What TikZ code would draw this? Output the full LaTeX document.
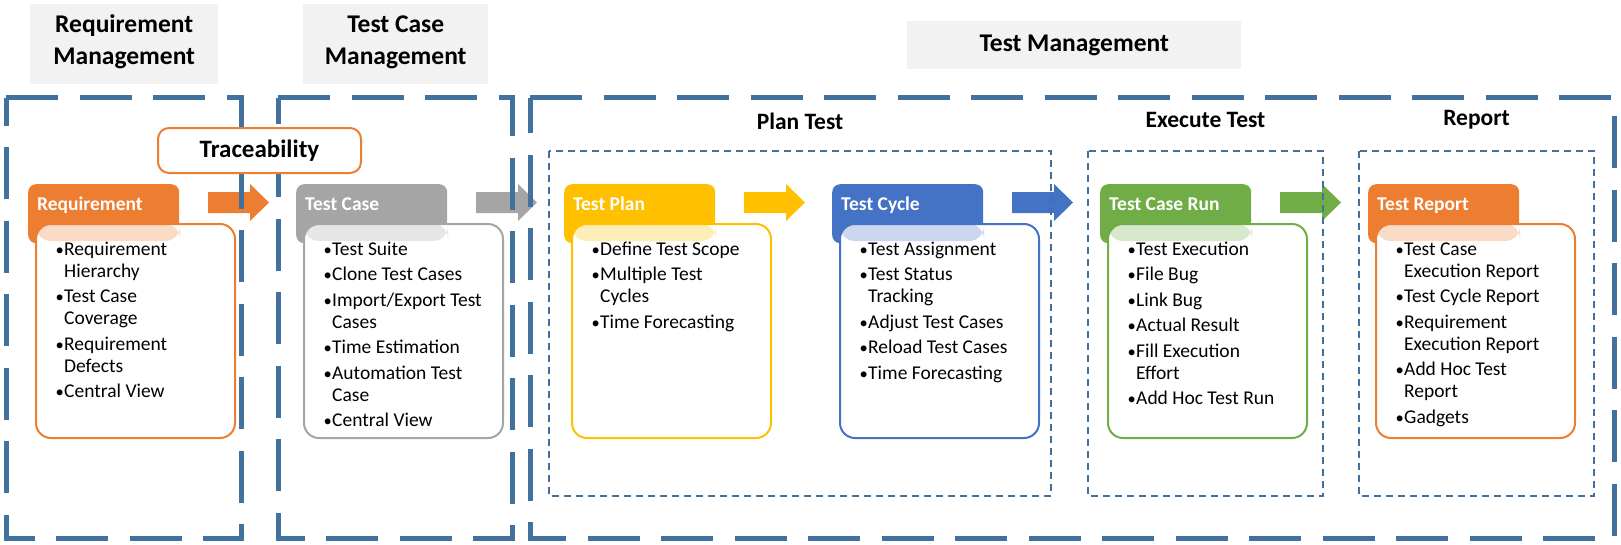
\documentclass[tikz,border=0pt]{standalone}
\usepackage{fontspec}
\usepackage{graphicx}
\setmainfont{Carlito}
\usetikzlibrary{calc}
\definecolor{corange}{HTML}{ED7D31}
\definecolor{cgray}{HTML}{A5A5A5}
\definecolor{cyellow}{HTML}{FFC000}
\definecolor{cblue}{HTML}{4472C4}
\definecolor{cgreen}{HTML}{70AD47}
\definecolor{dashblue}{HTML}{41719C}
\definecolor{titlegray}{HTML}{F2F2F2}
\newcommand{\bul}{\makebox[8.5pt][l]{\scalebox{0.85}{•}}}
\newcommand{\ind}{\hspace*{8.5pt}}
\newcommand{\itemsbox}[1]{\begin{minipage}[t]{190pt}\fontsize{19.5}{22}\selectfont #1\end{minipage}}
\newcommand{\drawcard}[5]{%
  \node[fill=#2, rounded corners=8pt, minimum width=151pt, minimum height=59pt, anchor=north west, inner sep=0] (#3tab) at (#1,184) {};
  \node[cardbody, draw=#2, minimum width=199pt, minimum height=214pt, anchor=north west,
        path picture={\fill[#2!28] (path picture bounding box.north west) rectangle ++(144,17);}] (#3body) at (#1+7,223) {};
  \node[tabtext, anchor=base west] (#3title) at (#1+9,210) {#4};
  \node[anchor=base west, inner sep=0] (#3list) at (#1+27.5,255) {\itemsbox{#5}};
}
\newcommand{\drawarrow}[2]{%
  \fill[#2] (#1+180,192) -- (#1+222,192) -- (#1+222,184) -- (#1+241,202.5) -- (#1+222,221) -- (#1+222,213) -- (#1+180,213) -- cycle;
}
\begin{document}
\begin{tikzpicture}[x=1pt,y=-1pt,
  titlebox/.style={fill=titlegray, draw=none, inner sep=0, anchor=north west},
  titletext/.style={font=\fontsize{25.5}{32}\selectfont\bfseries, align=center, inner sep=0},
  sectext/.style={font=\fontsize{23.5}{28}\selectfont\bfseries, inner sep=0},
  tabtext/.style={font=\fontsize{19.5}{22}\selectfont\bfseries, text=white, inner sep=0},
  cardbody/.style={fill=white, line width=2pt, rounded corners=15pt, inner sep=0},
  bigdash/.style={draw=dashblue, line width=5pt, dash pattern=on 52pt off 21.5pt},
  smalldash/.style={draw=dashblue, line width=1.8pt, dash pattern=on 7pt off 5pt}]
\useasboundingbox (0,0) rectangle (1621,544);
% title boxes
\node[titlebox, minimum width=188pt, minimum height=80pt] (reqmgmt) at (30,4) {};
\node[titletext] at ([yshift=2pt]reqmgmt.center) {Requirement\\Management};
\node[titlebox, minimum width=185pt, minimum height=80pt] (tcmgmt) at (303,4) {};
\node[titletext] at ([yshift=2pt]tcmgmt.center) {Test Case\\Management};
\node[titlebox, minimum width=334pt, minimum height=48pt] (tmgmt) at (907,21) {};
\node[titletext] at (tmgmt.center) {Test Management};
% cards
\drawcard{28}{corange}{req}{Requirement}{\bul Requirement\\\ind Hierarchy\\[3.5pt]\bul Test Case\\\ind Coverage\\[3.5pt]\bul Requirement\\\ind Defects\\[3.5pt]\bul Central View}
\drawcard{296}{cgray}{tc}{Test Case}{\bul Test Suite\\[3.5pt]\bul Clone Test Cases\\[3.5pt]\bul Import/Export Test\\\ind Cases\\[3.5pt]\bul Time Estimation\\[3.5pt]\bul Automation Test\\\ind Case\\[3.5pt]\bul Central View}
\drawcard{564}{cyellow}{plan}{Test Plan}{\bul Define Test Scope\\[3.5pt]\bul Multiple Test\\\ind Cycles\\[3.5pt]\bul Time Forecasting}
\drawcard{832}{cblue}{cycle}{Test Cycle}{\bul Test Assignment\\[3.5pt]\bul Test Status\\\ind Tracking\\[3.5pt]\bul Adjust Test Cases\\[3.5pt]\bul Reload Test Cases\\[3.5pt]\bul Time Forecasting}
\drawcard{1100}{cgreen}{run}{Test Case Run}{\bul Test Execution\\[3.5pt]\bul File Bug\\[3.5pt]\bul Link Bug\\[3.5pt]\bul Actual Result\\[3.5pt]\bul Fill Execution\\\ind Effort\\[3.5pt]\bul Add Hoc Test Run}
\drawcard{1368}{corange}{rep}{Test Report}{\bul Test Case\\\ind Execution Report\\[3.5pt]\bul Test Cycle Report\\[3.5pt]\bul Requirement\\\ind Execution Report\\[3.5pt]\bul Add Hoc Test\\\ind Report\\[3.5pt]\bul Gadgets}
% block arrows
\drawarrow{28}{corange}
\drawarrow{296}{cgray}
\drawarrow{564}{cyellow}
\drawarrow{832}{cblue}
\drawarrow{1100}{cgreen}
% section titles
\node[sectext] (plantitle) at (800,121) {Plan Test};
\node[sectext] (exectitle) at (1205.5,120) {Execute Test};
\node[sectext] (reptitle) at (1476.5,120) {Report};
% dashed frames
\draw[smalldash] (549,151) rectangle (1051,496);
\draw[smalldash] (1088,151) rectangle (1323,496);
\draw[smalldash] (1359,151) rectangle (1594,496);
\draw[bigdash] (6,97.5) -- (241,97.5) -- (241,538) -- (6,538) -- cycle;
\draw[bigdash] (278,97.5) -- (512,97.5) -- (512,538) -- (278,538) -- cycle;
\draw[bigdash] (530,97.5) -- (1614,97.5) -- (1614,538) -- (530,538) -- cycle;
% traceability
\node[draw=corange, fill=white, line width=2pt, rounded corners=11pt, minimum width=203pt, minimum height=45pt, inner sep=0,
      font=\fontsize{25}{30}\selectfont\bfseries] (trace) at (259.5,150.5) {Traceability};
\end{tikzpicture}
\end{document}
